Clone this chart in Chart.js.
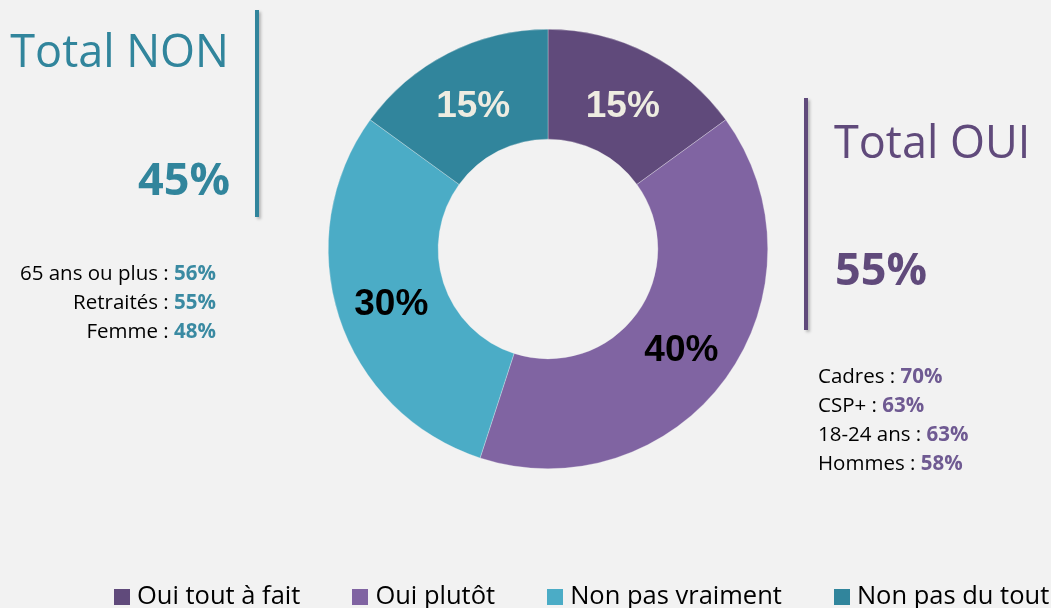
<!DOCTYPE html>
<html>
<head>
<meta charset="utf-8">
<script src="https://cdn.jsdelivr.net/npm/chart.js@4.4.0/dist/chart.umd.min.js"></script>
<style>
    html, body { margin: 0; padding: 0; }
    body { width: 1051px; height: 608px; background: #f2f2f2; position: relative; overflow: hidden; font-family: "Open Sans", sans-serif; }
    #chartWrap { position: absolute; left: 0; top: 0; width: 1051px; height: 608px; }
    .note { position: absolute; white-space: nowrap; line-height: 1; }
    .big { font-size: 45px; }
    .pct { font-size: 45px; font-weight: bold; }
    .list { font-size: 20.5px; line-height: 29px; color: #000; }
    .list b { font-weight: bold; }
    .bar { position: absolute; width: 4px; box-shadow: 2px 2px 3px rgba(0,0,0,0.25); }
    #legend { position: absolute; left: 114px; top: 582px; display: flex; gap: 52px; font-size: 25.5px; line-height: 1; white-space: nowrap; }
    #legend .item { display: flex; align-items: flex-end; }
    #legend .box { width: 16px; height: 16px; margin-right: 7px; margin-bottom: 3px; }
</style>
</head>
<body>
<div id="chartWrap"><canvas id="donut" width="1051" height="608"></canvas></div>

<div class="bar" style="left:255px; top:10px; height:207px; background:#31859c;"></div>
<div class="bar" style="left:804px; top:98px; height:232px; background:#604a7b;"></div>

<div id="nonTitle" class="note big" style="right:822px; top:27px; color:#31859c;">Total NON</div>
<div id="nonTotal" class="note pct" style="right:821px; top:155px; color:#31859c;"></div>
<div id="nonList" class="note list" style="right:835px; top:258px; text-align:right;"></div>

<div id="ouiTitle" class="note big" style="left:834px; top:118px; color:#604a7b;">Total OUI</div>
<div id="ouiTotal" class="note pct" style="left:835px; top:245px; color:#604a7b;"></div>
<div id="ouiList" class="note list" style="left:818px; top:361px;"></div>

<div id="legend"></div>

<script>
const categories = ["Oui tout à fait", "Oui plutôt", "Non pas vraiment", "Non pas du tout"];
const values = [15, 40, 30, 15];
const sliceColors = ["#604a7b", "#8064a2", "#4bacc6", "#31859c"];
const labelColors = ["#eeece1", "#000000", "#000000", "#eeece1"];

const nonGroups = ["65 ans ou plus", "Retraités", "Femme"];
const nonGroupValues = [56, 55, 48];
const ouiGroups = ["Cadres", "CSP+", "18-24 ans", "Hommes"];
const ouiGroupValues = [70, 63, 63, 58];

// totals come straight from the slices
const totalOui = values[0] + values[1];
const totalNon = values[2] + values[3];

document.getElementById("ouiTotal").textContent = totalOui + "%";
document.getElementById("nonTotal").textContent = totalNon + "%";

function fillList(id, groups, vals, color) {
    const el = document.getElementById(id);
    el.innerHTML = groups.map((g, i) =>
        `<div>${g} : <b style="color:${color}">${vals[i]}%</b></div>`
    ).join("");
}
fillList("nonList", nonGroups, nonGroupValues, "#3a8aa2");
fillList("ouiList", ouiGroups, ouiGroupValues, "#6f5a92");

// percentage in the middle of each ring slice
const sliceLabels = {
    id: "sliceLabels",
    afterDatasetsDraw(chart) {
        const ctx = chart.ctx;
        const meta = chart.getDatasetMeta(0);
        ctx.save();
        ctx.font = "bold 37px 'Liberation Sans', Arial, sans-serif";
        ctx.textAlign = "center";
        ctx.textBaseline = "middle";
        meta.data.forEach((arc, i) => {
            const p = arc.tooltipPosition();
            ctx.fillStyle = labelColors[i];
            ctx.fillText(values[i] + "%", p.x, p.y + 5);
        });
        ctx.restore();
    }
};

const chart = new Chart(document.getElementById("donut").getContext("2d"), {
    type: "doughnut",
    data: {
        labels: categories,
        datasets: [{
            data: values,
            backgroundColor: sliceColors,
            borderColor: "rgba(242,242,242,0.6)",
            borderWidth: 0.5
        }]
    },
    options: {
        responsive: false,
        animation: false,
        cutout: "50%",
        layout: {
            padding: { left: 328, right: 283, top: 29, bottom: 139 }
        },
        plugins: {
            legend: { display: false },
            tooltip: { enabled: false }
        }
    },
    plugins: [sliceLabels]
});

// legend built from the chart's own legend items
const legendEl = document.getElementById("legend");
chart.options.plugins.legend.labels.generateLabels(chart).forEach(item => {
    const div = document.createElement("div");
    div.className = "item";
    div.innerHTML = `<span class="box" style="background:${item.fillStyle}"></span><span>${item.text}</span>`;
    legendEl.appendChild(div);
});
</script>
</body>
</html>
